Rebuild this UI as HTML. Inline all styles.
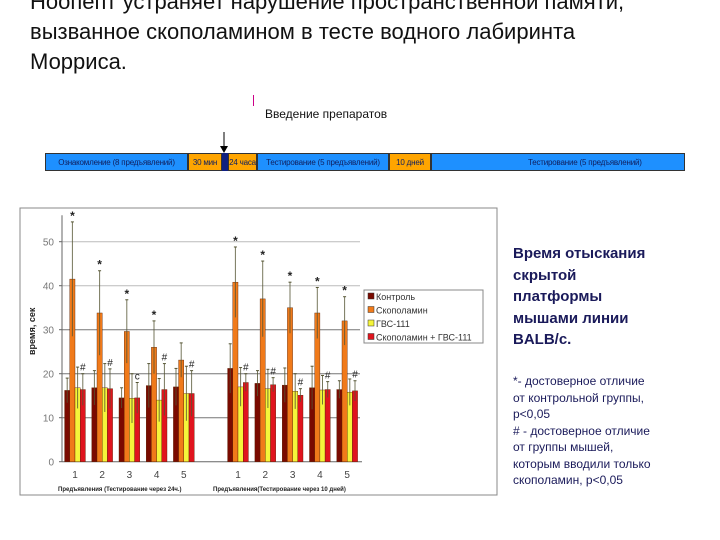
<!DOCTYPE html>
<html><head><meta charset="utf-8"><style>
body{margin:0;width:720px;height:540px;overflow:hidden;background:#fff;font-family:"Liberation Sans","DejaVu Sans",sans-serif;position:relative}
.t{position:absolute;white-space:nowrap}
</style></head><body>
<div class="t" style="left:30px;top:-13px;font-size:22px;line-height:30px;color:#111">Ноопепт устраняет нарушение пространственной памяти,<br>вызванное скополамином в тесте водного лабиринта<br>Морриса.</div>
<div style="position:absolute;left:253px;top:95px;width:1px;height:11px;background:#c08"></div>
<div class="t" style="left:265px;top:107px;font-size:12px;color:#111">Введение препаратов</div>
<svg style="position:absolute;left:0;top:0" width="720" height="180"><line x1="224" y1="132" x2="224" y2="148" stroke="#000"/><polygon points="220,146 228,146 224,153" fill="#000"/></svg>
<div style="position:absolute;left:45px;top:153px;width:640px;height:18px;font-size:8px;line-height:18px;letter-spacing:-0.2px">
<div class="t" style="left:0;width:143px;height:18px;background:#1e90ff;color:#102060;text-align:center;border:1px solid #333;box-sizing:border-box">Ознакомление (8 предъявлений)</div>
<div class="t" style="left:143px;width:34px;height:18px;background:#ffa500;color:#102060;text-align:center;border:1px solid #333;box-sizing:border-box">30 мин</div>
<div class="t" style="left:177px;width:6px;height:18px;background:#102080"></div>
<div class="t" style="left:183px;width:29px;height:18px;background:#ffa500;color:#102060;text-align:center;border:1px solid #333;box-sizing:border-box">24 часа</div>
<div class="t" style="left:212px;width:132px;height:18px;background:#1e90ff;color:#102060;text-align:center;border:1px solid #333;box-sizing:border-box">Тестирование (5 предъявлений)</div>
<div class="t" style="left:344px;width:42px;height:18px;background:#ffa500;color:#102060;text-align:center;border:1px solid #333;box-sizing:border-box">10 дней</div>
<div class="t" style="left:386px;width:254px;height:18px;background:#1e90ff;color:#102060;text-align:left;padding-left:96px;border:1px solid #333;box-sizing:border-box">Тестирование (5 предъявлений)</div>
</div>
<div class="t" style="left:513px;top:243px;font-size:15px;line-height:21.5px;color:#1a1a5a;font-weight:bold">Время отыскания<br>скрытой<br>платформы<br>мышами линии<br>BALB/c.</div>
<div class="t" style="left:513px;top:373px;font-size:12px;line-height:16.5px;color:#1a1a5a">*- достоверное отличие<br>от контрольной группы,<br>p&lt;0,05<br># - достоверное отличие<br>от группы мышей,<br>которым вводили только<br>скополамин, p&lt;0,05</div>
<svg id="chart" style="position:absolute;left:0;top:0" width="720" height="540"></svg>
<script>
const groups=["1","2","3","4","5","1","2","3","4","5"];
const control=[16.2,16.8,14.5,17.3,17,21.2,17.8,17.4,16.8,16.4];
const controlErr=[2.8,3.9,2.3,5,4.2,5.6,2.9,3.9,4.9,2];
const scop=[41.5,33.8,29.6,26,23.1,40.8,37,35,33.8,32];
const scopErr=[13,9.6,7.2,6,3.9,8,8.6,5.8,5.8,5.5];
const gvs=[16.8,16.8,14.4,14,15.5,17,16.6,16,16.3,15.8];
const gvsErr=[4.7,5.5,5.6,4.9,6.2,4.4,4.4,4,3.3,3];
const combo=[16.4,16.6,14.5,16.4,15.5,18,17.5,15.1,16.4,16.1];
const comboErr=[3.6,4.5,3.5,5.9,5.2,2,1.6,1.5,1.8,2.3];
const starMark=[1,1,1,1,0,1,1,1,1,1];
const hashMark=["#","#","c","#","#","#","#","#","#","#"];
const yTicks=[0,10,20,30,40,50];
const seriesNames=["Контроль","Скополамин","ГВС-111","Скополамин + ГВС-111"];
const colors=["#7a0a00","#f07a1a","#f5f53a","#e0141e"];
const ns="http://www.w3.org/2000/svg",svg=document.getElementById("chart");
function mk(t,a,p){const e=document.createElementNS(ns,t);for(const k in a)e.setAttribute(k,a[k]);(p||svg).appendChild(e);return e}
const y0=461.7,pxPer=4.4;
const Y=v=>y0-v*pxPer;
const X=i=>(i<5?75+i*27.2:238+(i-5)*27.3);
mk("rect",{x:20,y:208,width:477,height:287,fill:"#fff",stroke:"#888"});
yTicks.forEach(v=>{
 if(v>0){const g=mk("line",{x1:62,x2:360,y1:Y(v),y2:Y(v),stroke:v>=40?"#bbb":"#777","stroke-width":1});}
 const t=mk("text",{x:54,y:Y(v)+4,"font-size":10,fill:"#777","text-anchor":"end"});t.textContent=v;
 
 mk("line",{x1:59,x2:62,y1:Y(v),y2:Y(v),stroke:"#666"});
});
mk("line",{x1:62,x2:62,y1:Y(0),y2:Y(56),stroke:"#666"});
mk("line",{x1:62,x2:362,y1:Y(0),y2:Y(0),stroke:"#666"});
const yt=mk("text",{x:0,y:0,"font-size":9,"font-weight":"bold",fill:"#222",transform:"translate(35,355) rotate(-90)"});yt.textContent="время, сек";

const series=[[control,controlErr],[scop,scopErr],[gvs,gvsErr],[combo,comboErr]];
const bw=5.2;
groups.forEach((g,i)=>{
 const cx=X(i);
 series.forEach((s,j)=>{
  const x=cx-2*bw+j*bw,v=s[0][i],e=s[1][i];
  const r=mk("rect",{x:x,y:Y(v),width:bw,height:Y(0)-Y(v),fill:colors[j],stroke:"#5a2000","stroke-width":0.4});
  
  const m=x+bw/2;
  mk("line",{x1:m,x2:m,y1:Y(v+e),y2:Y(v-e),stroke:"#553",opacity:0.8});
  mk("line",{x1:m-1.5,x2:m+1.5,y1:Y(v+e),y2:Y(v+e),stroke:"#553"});
 });
 if(starMark[i]){const st=mk("text",{x:cx-2*bw+bw*1.5,y:Y(scop[i]+scopErr[i])-2,"font-size":12,"font-weight":"bold","text-anchor":"middle",fill:"#222"});st.textContent="*";}
 const h=mk("text",{x:cx+bw*1.5,y:Y(combo[i]+comboErr[i])-3,"font-size":10,"text-anchor":"middle",fill:"#222"});h.textContent=hashMark[i];
 
 const l=mk("text",{x:cx,y:478,"font-size":10,"text-anchor":"middle",fill:"#444"});l.textContent=g;
 
});
const xa=mk("text",{x:58,y:491,"font-size":6,"font-weight":"bold",fill:"#222"});xa.textContent="Предъявления (Тестирование через 24ч.)";

const xb=mk("text",{x:213,y:491,"font-size":6,"font-weight":"bold",fill:"#222"});xb.textContent="Предъявления(Тестирование через 10 дней)";

const lg=mk("g",{});
mk("rect",{x:364,y:290,width:119,height:53,fill:"#fff",stroke:"#888"},lg);
seriesNames.forEach((n,j)=>{
 const yy=297+j*13.5;
 mk("rect",{x:368,y:yy-4,width:6,height:6,fill:colors[j],stroke:"#333","stroke-width":0.5},lg);
 const t=mk("text",{x:376,y:yy+3,"font-size":9,fill:"#333"},lg);t.textContent=n;
 
});
</script>
</body></html>
